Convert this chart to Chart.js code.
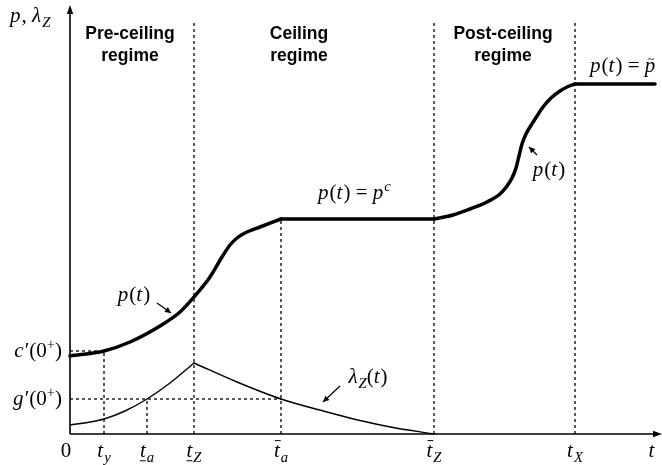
<!DOCTYPE html>
<html>
<head>
<meta charset="utf-8">
<script src="https://cdn.jsdelivr.net/npm/chart.js@4.4.1/dist/chart.umd.min.js"></script>
<style>
  body { margin: 0; background: #fff; }
  canvas { display: block; }
</style>
</head>
<body>
<canvas id="chart" width="662" height="465"></canvas>
<script>
// key times on the t axis
const tY = 3.4;
const taLow = 7.7;
const tZLow = 12.4;
const taBar = 21.1;
const tZBar = 36.4;
const tX = 50.5;
const tEnd = 58.5;

// reference levels on the vertical axis
const cPrime = 8.3;
const gPrime = 3.5;
const pCeil = 21.5;
const pTilde = 35.0;
const dottedTop = 41.1;

// price path p(t), in pieces: pre-ceiling rise, ceiling, post-ceiling rise, final level
const preTimes = [0, 3.4, 6.0, 9.0, 11.0, 12.4, 14.0, 15.2, 16.0, 16.7, 17.5, 19.0, 21.1];
const preValues = [7.8, 8.3, 9.2, 10.8, 12.2, 13.7, 15.7, 17.7, 18.9, 19.6, 20.1, 20.7, 21.5];
const ceilTimes = [taBar, tZBar];
const ceilValues = [pCeil, pCeil];
const postTimes = [36.4, 38.3, 40.0, 41.7, 43.0, 43.7, 44.2, 44.6, 44.9, 45.2, 45.6, 46.0, 46.7, 47.3, 48.1, 49.0, 49.7, 50.5];
const postValues = [21.5, 21.9, 22.5, 23.2, 24.0, 24.8, 25.6, 26.6, 27.8, 29.0, 30.0, 30.7, 31.8, 32.7, 33.6, 34.3, 34.7, 35.0];
const topTimes = [tX, tEnd];
const topValues = [pTilde, pTilde];

// lambda_Z(t), rising and falling parts
const lamRiseTimes = [0, 2.0, 3.4, 5.5, 7.7, 10.0, 12.4];
const lamRiseValues = [0.9, 1.2, 1.5, 2.3, 3.5, 5.1, 7.1];
const lamFallTimes = [12.4, 16.7, 21.1, 25.7, 29.0, 32.3, 36.4];
const lamFallValues = [7.1, 5.2, 3.5, 2.2, 1.35, 0.65, 0];

const pts = (xs, ys) => xs.map((x, i) => ({ x: x, y: ys[i] }));

const curve = (xs, ys, width) => ({
  data: pts(xs, ys),
  borderColor: "#000",
  borderWidth: width,
  pointRadius: 0,
  cubicInterpolationMode: "monotone",
  borderCapStyle: "round",
  clip: false,
});

const dotted = (data) => ({
  data: data,
  borderColor: "#000",
  borderWidth: 1.3,
  borderDash: [3, 3],
  pointRadius: 0,
  tension: 0,
  clip: false,
});

const datasets = [
  curve(preTimes, preValues, 3.5),
  curve(ceilTimes, ceilValues, 3.5),
  curve(postTimes, postValues, 3.5),
  curve(topTimes, topValues, 3.5),
  curve(lamRiseTimes, lamRiseValues, 1.4),
  curve(lamFallTimes, lamFallValues, 1.4),
  // vertical dotted lines
  dotted([{ x: tY, y: 0 }, { x: tY, y: cPrime }]),
  dotted([{ x: taLow, y: 0 }, { x: taLow, y: gPrime }]),
  dotted([{ x: tZLow, y: 0 }, { x: tZLow, y: dottedTop }]),
  dotted([{ x: taBar, y: 0 }, { x: taBar, y: pCeil }]),
  dotted([{ x: tZBar, y: 0 }, { x: tZBar, y: dottedTop }]),
  dotted([{ x: tX, y: 0 }, { x: tX, y: dottedTop }]),
  // horizontal dotted lines
  dotted([{ x: 0, y: cPrime }, { x: tY, y: cPrime }]),
  dotted([{ x: 0, y: gPrime }, { x: taBar, y: gPrime }]),
];

// math text: runs of [text, flags]
const SERIF = '"Liberation Serif", "DejaVu Serif", serif';
function runFont(flags, size) {
  const s = flags.includes("sub") || flags.includes("sup") ? size * 0.7 : size;
  return (flags.includes("i") ? "italic " : "") + s + "px " + SERIF;
}
function drawMath(ctx, runs, x, y, align, size) {
  ctx.save();
  ctx.textBaseline = "alphabetic";
  ctx.textAlign = "left";
  let widths = runs.map(([t, f]) => {
    ctx.font = runFont(f, size);
    return ctx.measureText(t).width + (f.includes("i") && !f.includes("sub") ? size * 0.05 : 0);
  });
  const total = widths.reduce((a, b) => a + b, 0);
  let cx = align === "right" ? x - total : align === "center" ? x - total / 2 : x;
  runs.forEach(([t, f], i) => {
    ctx.font = runFont(f, size);
    let dy = 0;
    if (f.includes("sub")) dy = size * 0.22;
    if (f.includes("sup")) dy = -size * 0.4;
    ctx.fillStyle = "#000";
    ctx.fillText(t, cx, y + dy);
    const w = ctx.measureText(t).width;
    ctx.strokeStyle = "#000";
    ctx.lineWidth = 1;
    if (f.includes("bar")) {
      ctx.beginPath();
      ctx.moveTo(cx + 1, y - size * 0.78);
      ctx.lineTo(cx + w + 1, y - size * 0.78);
      ctx.stroke();
    }
    if (f.includes("under")) {
      ctx.beginPath();
      ctx.moveTo(cx, y + size * 0.18);
      ctx.lineTo(cx + w, y + size * 0.18);
      ctx.stroke();
    }
    if (f.includes("tilde")) {
      ctx.font = size * 0.6 + "px " + SERIF;
      ctx.textAlign = "center";
      ctx.fillText("~", cx + w / 2 + 1, y - size * 0.45);
      ctx.textAlign = "left";
    }
    cx += widths[i];
  });
  ctx.restore();
}

function arrowHead(ctx, x0, y0, x1, y1, len, half) {
  const a = Math.atan2(y1 - y0, x1 - x0);
  ctx.beginPath();
  ctx.moveTo(x1, y1);
  ctx.lineTo(x1 - len * Math.cos(a) + half * Math.sin(a), y1 - len * Math.sin(a) - half * Math.cos(a));
  ctx.lineTo(x1 - len * Math.cos(a) - half * Math.sin(a), y1 - len * Math.sin(a) + half * Math.cos(a));
  ctx.closePath();
  ctx.fill();
}

function pointer(ctx, xs, ys, from, to) {
  const x0 = xs.getPixelForValue(from[0]), y0 = ys.getPixelForValue(from[1]);
  const x1 = xs.getPixelForValue(to[0]), y1 = ys.getPixelForValue(to[1]);
  ctx.beginPath();
  ctx.moveTo(x0, y0);
  ctx.lineTo(x1, y1);
  ctx.stroke();
  arrowHead(ctx, x0, y0, x1, y1, 6, 3);
}

const decorations = {
  id: "decorations",
  afterDatasetsDraw(chart) {
    const ctx = chart.ctx;
    const xs = chart.scales.x, ys = chart.scales.y;
    const x0 = xs.getPixelForValue(0), y0 = ys.getPixelForValue(0);
    const X = (v) => xs.getPixelForValue(v);
    const Y = (v) => ys.getPixelForValue(v);
    ctx.save();
    ctx.strokeStyle = "#000";
    ctx.fillStyle = "#000";
    ctx.lineWidth = 1.6;
    // axes with arrows
    ctx.beginPath();
    ctx.moveTo(x0, y0);
    ctx.lineTo(x0, 12);
    ctx.moveTo(x0, y0);
    ctx.lineTo(657, y0);
    ctx.stroke();
    arrowHead(ctx, x0, y0, x0, 5, 9, 3.2);
    arrowHead(ctx, x0, y0, 662, y0, 9, 3.2);

    // pointers
    ctx.lineWidth = 1.2;
    pointer(ctx, xs, ys, [8.7, 13.1], [10.1, 12.1]);
    pointer(ctx, xs, ys, [46.7, 27.9], [45.9, 28.7]);
    pointer(ctx, xs, ys, [27.0, 4.8], [25.3, 3.2]);

    // regime titles
    ctx.font = 'bold 17.5px "Liberation Sans", Arial, sans-serif';
    ctx.textAlign = "center";
    ctx.textBaseline = "middle";
    [["Pre-ceiling", "regime", 130], ["Ceiling", "regime", 299], ["Post-ceiling", "regime", 503]].forEach(([a, b, cx]) => {
      ctx.fillText(a, cx, 34);
      ctx.fillText(b, cx, 56);
    });
    ctx.restore();

    const S = 21;
    // axis titles
    drawMath(ctx, [["p", "i"], [", ", ""], ["λ", "i"], ["Z", "i sub"]], 10, 22, "left", S);
    drawMath(ctx, [["t", "i"]], 652, 457, "center", S);
    drawMath(ctx, [["0", ""]], X(0) - 4, 457, "center", S);
    // y labels
    drawMath(ctx, [["c", "i"], ["′", ""], ["(0", ""], ["+", "sup"], [")", ""]], 62, Y(cPrime) + 6, "right", S);
    drawMath(ctx, [["g", "i"], ["′", ""], ["(0", ""], ["+", "sup"], [")", ""]], 62, Y(gPrime) + 6, "right", S);
    // t labels
    drawMath(ctx, [["t", "i"], ["y", "i sub"]], X(tY), 457, "center", S);
    drawMath(ctx, [["t", "i under"], ["a", "i sub"]], X(taLow), 457, "center", S);
    drawMath(ctx, [["t", "i under"], ["Z", "i sub"]], X(tZLow), 457, "center", S);
    drawMath(ctx, [["t", "i bar"], ["a", "i sub"]], X(taBar), 457, "center", S);
    drawMath(ctx, [["t", "i bar"], ["Z", "i sub"]], X(tZBar), 457, "center", S);
    drawMath(ctx, [["t", "i"], ["X", "i sub"]], X(tX), 457, "center", S);
    // curve labels
    drawMath(ctx, [["p", "i"], ["(", ""], ["t", "i"], [")", ""]], X(6.4), Y(13.9) + 6, "center", S);
    drawMath(ctx, [["p", "i"], ["(", ""], ["t", "i"], [")", ""]], X(47.9), Y(26.4) + 6, "center", S);
    drawMath(ctx, [["λ", "i"], ["Z", "i sub"], ["(", ""], ["t", "i"], [")", ""]], X(29.8), Y(5.7) + 6, "center", S);
    drawMath(ctx, [["p", "i"], ["(", ""], ["t", "i"], [") = ", ""], ["p", "i"], ["c", "i sup"]], X(28.5), Y(24.1) + 6, "center", S);
    drawMath(ctx, [["p", "i"], ["(", ""], ["t", "i"], [") = ", ""], ["p", "i tilde"]], X(52.0), Y(36.8) + 6, "left", S);
  },
};

new Chart(document.getElementById("chart"), {
  type: "line",
  data: { datasets: datasets },
  options: {
    responsive: false,
    animation: false,
    layout: { padding: { left: 70, right: 2, top: 8, bottom: 31 } },
    scales: {
      x: { type: "linear", min: 0, max: 59, display: false },
      y: { type: "linear", min: 0, max: 42.6, display: false },
    },
    plugins: { legend: { display: false }, tooltip: { enabled: false } },
  },
  plugins: [decorations],
});
</script>
</body>
</html>
